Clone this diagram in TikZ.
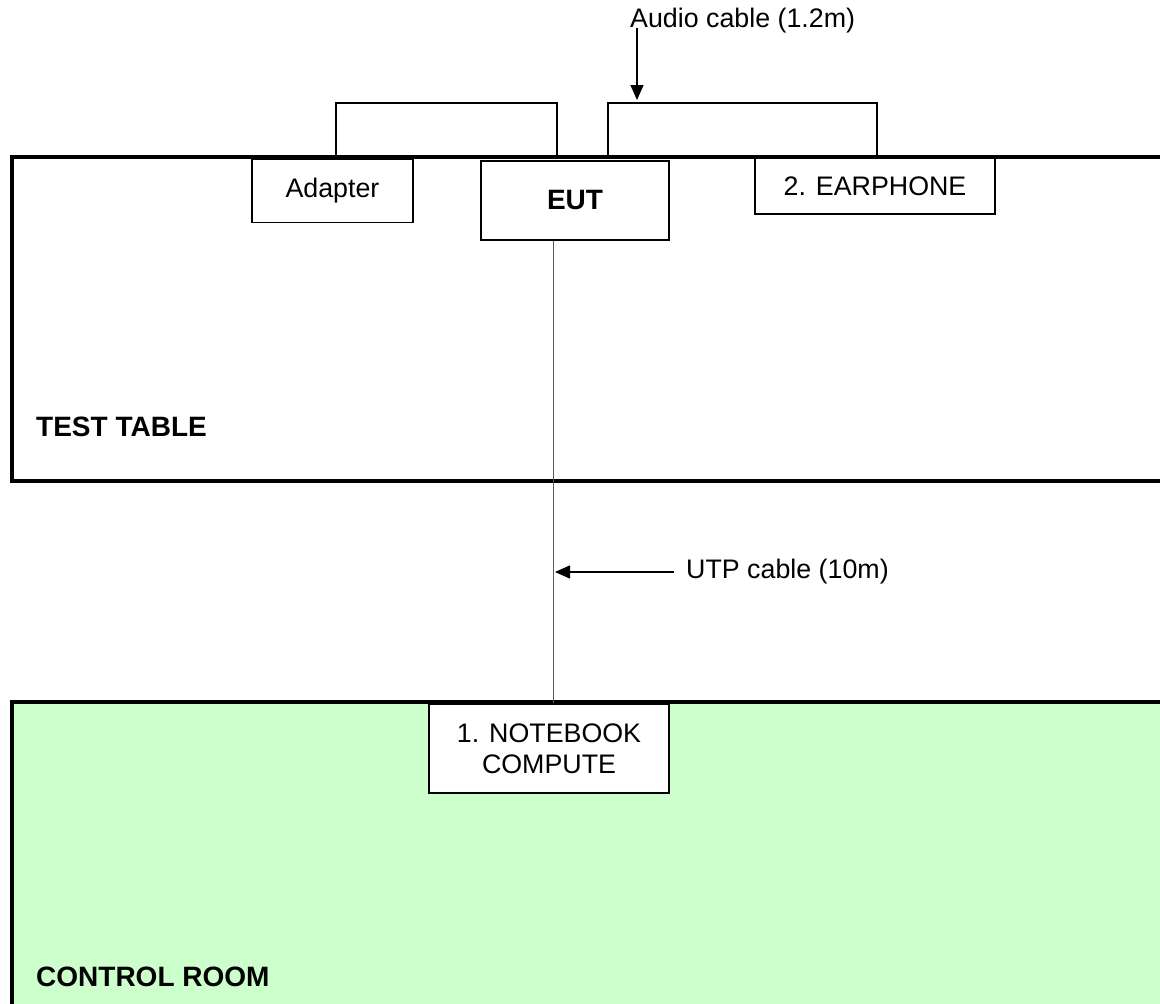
\documentclass[tikz,border=0pt]{standalone}
\usepackage{fontspec}
\setmainfont{Liberation Sans}
\usepackage{xcolor}
\usepackage{tikz}
\usetikzlibrary{arrows.meta}
\definecolor{roomgreen}{HTML}{CCFFCC}

\begin{document}
\begin{tikzpicture}[x=1pt, y=-1pt, >={Triangle[length=15pt,width=13pt]},
    font=\fontsize{26.8}{31}\selectfont,
    unit/.style={draw, fill=white, line width=1.3pt, inner sep=0pt, align=center},
    wire/.style={line width=1.4pt},
    area/.style={line width=4.5pt},
    title/.style={font=\fontsize{28}{31}\selectfont\bfseries, anchor=west, inner sep=0pt}]
\useasboundingbox (0,0) rectangle (1160,1004);
\clip (0,0) rectangle (1160,1004);
\draw[area, fill=roomgreen] (12,702) rectangle (1200,1100);
\draw[area] (12,157) rectangle (1200,481);
\coordinate (A) at (336,157);
\coordinate (B) at (557,157);
\coordinate (C) at (608,157);
\coordinate (D) at (877,157);
\draw[wire] (A) -- ++(0,-54) -| (B);
\draw[wire] (C) -- ++(0,-54) -| (D);
\node[unit, minimum width=161pt, minimum height=63pt] (adapter) at (332.5,191) {Adapter};
\node[unit, minimum width=188pt, minimum height=79pt, font=\fontsize{28}{31}\selectfont\bfseries] (eut) at (575,200.5) {EUT};
\node[unit, minimum width=240pt, minimum height=56pt] (earphone) at (875,186) {2. EARPHONE};
\node[unit, minimum width=240pt, minimum height=89pt] (notebook) at (549,748.5) {1. NOTEBOOK\\COMPUTE};
\node[title] (table) at (36,427) {TEST TABLE};
\node[title] (room) at (36,977) {CONTROL ROOM};
\coordinate (L) at (553,0);
\draw[gray!70!black, line width=1pt] (eut.south -| L) -- (notebook.north -| L);
\node[anchor=west, inner sep=0pt] (audio) at (630,21) {Audio cable (1.2m)};
\coordinate (T) at (637,100);
\draw[->, wire] (T |- 0,28) -- (T);
\node[anchor=west, inner sep=0pt] (utp) at (686,572) {UTP cable (10m)};
\draw[->, wire] ([xshift=-12pt]utp.west) -- ([xshift=2pt]utp.west -| L);
\end{tikzpicture}
\end{document}
